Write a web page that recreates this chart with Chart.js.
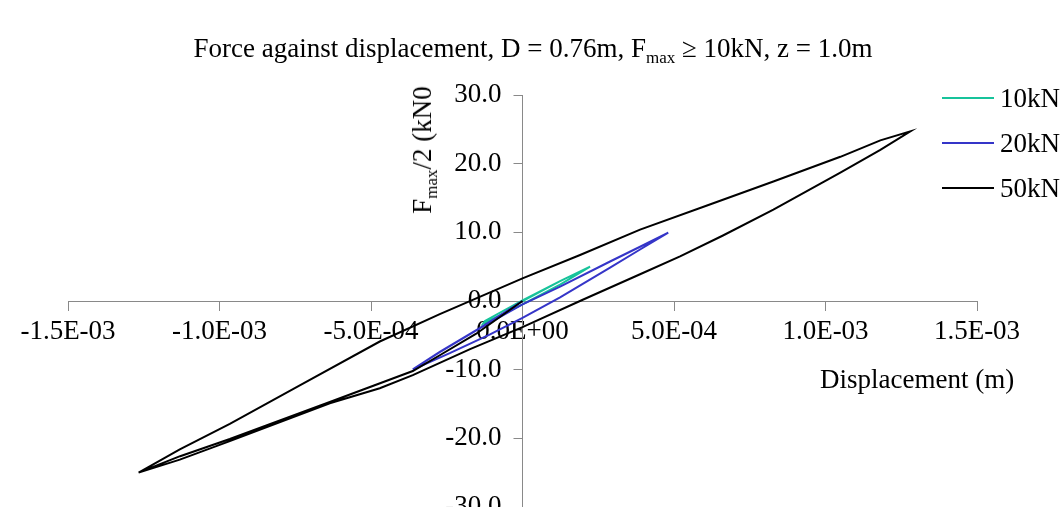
<!DOCTYPE html>
<html>
<head>
<meta charset="utf-8">
<script src="https://cdn.jsdelivr.net/npm/chart.js@4.4.1/dist/chart.umd.min.js"></script>
<style>
  html, body { margin: 0; padding: 0; background: #fff; overflow: hidden; }
  #wrap { position: relative; width: 1064px; height: 507px; font-family: "Liberation Serif", "Times New Roman", serif; color: #000; }
  #mycanvas { position: absolute; left: 0; top: 0; }
  .txt { position: absolute; font-size: 27px; line-height: 27px; white-space: nowrap; }
  .sub { font-size: 17px; position: relative; top: 6px; }
  .legline { position: absolute; width: 52px; height: 2px; }
</style>
</head>
<body>
<div id="wrap">
  <canvas id="mycanvas" width="1064" height="507"></canvas>
  <div class="txt" id="title" style="left:533px; top:35px; transform:translateX(-50%);">Force against displacement, D = 0.76m, F<span class="sub">max</span> &#8805; 10kN, z = 1.0m</div>
  <div class="txt" id="ytitle" style="left:424px; top:150px; transform:translate(-50%,-50%) rotate(-90deg);">F<span class="sub">max</span>/2 (kN0</div>
  <div class="txt" id="xtitle" style="left:820px; top:366px;">Displacement (m)</div>
  <div id="legend"></div>
</div>
<script>
// series labels and colours
const seriesLabels = ['10kN', '20kN', '50kN'];
const seriesColors = ['#17C39B', '#3535C8', '#000000'];

// 10kN loop
const disp10 = [0, 1.24e-4, 2.23e-4, 1.24e-4, 0, -1.3e-4, -1.24e-4, 0, 1.24e-4, 2.23e-4];
const force10 = [0, 2.9, 5.0, 2.4, -0.5, -3.3, -2.9, 0.1, 2.9, 5.0];

// 20kN loop
const disp20 = [0, -1.4e-4, -2.73e-4, -3.62e-4,
    -2.4e-4, -1.07e-4, 0, 1.24e-4, 2.89e-4, 3.88e-4, 4.81e-4,
    3.88e-4, 2.89e-4, 1.24e-4, 0, -1.4e-4, -2.73e-4, -3.62e-4];
const force20 = [0, -3.9, -7.4, -9.97,
    -7.6, -4.85, -2.45, 0.54, 4.86, 7.5, 9.97,
    7.9, 5.75, 2.1, -0.5, -3.95, -7.45, -9.97];

// 50kN loop
const disp50 = [0, -1.54e-4, -2.73e-4, -3.62e-4, -6.36e-4, -9.66e-4, -1.13e-3, -1.267e-3,
    -1.131e-3, -9.66e-4, -6.36e-4, -4.71e-4, -3.62e-4, -1.73e-4, 0, 1.97e-4, 3.88e-4, 5.2e-4, 6.6e-4, 8.28e-4, 1.049e-3, 1.181e-3, 1.28e-3,
    1.181e-3, 1.049e-3, 8.28e-4, 6.09e-4, 3.88e-4, 1.9e-4, 0, -2.73e-4, -4.71e-4, -7.35e-4, -9.66e-4, -1.131e-3, -1.267e-3];
const force50 = [0, -4.8, -7.9, -10.2, -14.7, -20.1, -22.6, -25.0,
    -23.1, -20.4, -14.9, -12.7, -10.8, -7.0, -3.8, 0.15, 3.9, 6.5, 9.5, 13.3, 18.7, 22.0, 24.7,
    23.4, 21.0, 17.4, 13.9, 10.4, 6.7, 3.3, -1.9, -5.9, -12.3, -17.9, -21.6, -25.0];

// tick labels
const xTicks = [-1.5e-3, -1.0e-3, -5.0e-4, 0, 5.0e-4, 1.0e-3, 1.5e-3];
const yTicks = [-30, -20, -10, 0, 10, 20, 30];

function sci(v) {
    if (Math.abs(v) < 1e-12) v = 0;
    const parts = v.toExponential(1).split('e');
    const n = parseInt(parts[1], 10);
    return parts[0] + 'E' + (n < 0 ? '-' : '+') + String(Math.abs(n)).padStart(2, '0');
}

function toPoints(xs, ys) {
    return xs.map((x, i) => ({ x: x, y: ys[i] }));
}

const allDisp = [disp10, disp20, disp50];
const allForce = [force10, force20, force50];

const datasets = seriesLabels.map((label, i) => ({
    label: label,
    data: toPoints(allDisp[i], allForce[i]),
    showLine: true,
    borderColor: seriesColors[i],
    backgroundColor: seriesColors[i],
    borderWidth: 2,
    pointRadius: 0,
    tension: 0,
    fill: false,
    order: seriesLabels.length - i   // last series on top, like the original
}));

// legend
const legend = document.getElementById('legend');
const legendY = [98, 143, 188];
seriesLabels.forEach((label, i) => {
    const line = document.createElement('div');
    line.className = 'legline';
    line.style.left = '942px';
    line.style.top = (legendY[i] - 1) + 'px';
    line.style.background = seriesColors[i];
    legend.appendChild(line);
    const t = document.createElement('div');
    t.className = 'txt';
    t.style.left = '1000px';
    t.style.top = (legendY[i] - 13) + 'px';
    t.textContent = label;
    legend.appendChild(t);
});

const axisColor = '#898989';
const tickFont = { family: 'Liberation Serif', size: 27 };

// put the y axis (drawn as a left axis) on x = 0, keeping room for its labels
const crossAxes = {
    id: 'crossAxes',
    afterLayout(chart) {
        const y = chart.scales.y;
        const x0 = chart.scales.x.getPixelForValue(0);
        y.left = x0 - 130;
        y.right = x0;
        y.width = 130;
    }
};

new Chart(document.getElementById('mycanvas'), {
    type: 'scatter',
    data: { datasets: datasets },
    plugins: [crossAxes],
    options: {
        responsive: false,
        animation: false,
        devicePixelRatio: 1,
        layout: { padding: { left: 68, right: 87, top: 95, bottom: 0 } },
        plugins: {
            legend: { display: false },
            title: { display: false },
            tooltip: { enabled: false }
        },
        scales: {
            x: {
                type: 'linear',
                min: -1.5e-3,
                max: 1.5e-3,
                position: { y: 0 },
                afterBuildTicks: s => { s.ticks = xTicks.map(v => ({ value: v })); },
                afterFit: s => { s.paddingTop = 0; s.paddingBottom = 0; },
                ticks: {
                    callback: v => sci(v),
                    font: tickFont,
                    color: '#000',
                    padding: 6,
                    maxRotation: 0,
                    autoSkip: false
                },
                grid: { drawOnChartArea: false, drawTicks: true, tickLength: 9, color: axisColor, lineWidth: 1 },
                border: { display: true, color: axisColor, width: 1 }
            },
            y: {
                type: 'linear',
                min: -30,
                max: 30,
                position: 'left',
                afterBuildTicks: s => { s.ticks = yTicks.map(v => ({ value: v })); },
                afterFit: s => { s.width = 0; s.paddingTop = 0; s.paddingBottom = 0; },
                ticks: {
                    callback: v => v.toFixed(1),
                    font: tickFont,
                    color: '#000',
                    padding: 12,
                    autoSkip: false
                },
                grid: { drawOnChartArea: false, drawTicks: true, tickLength: 9, color: axisColor, lineWidth: 1 },
                border: { display: true, color: axisColor, width: 1 }
            }
        }
    }
});
</script>
</body>
</html>
